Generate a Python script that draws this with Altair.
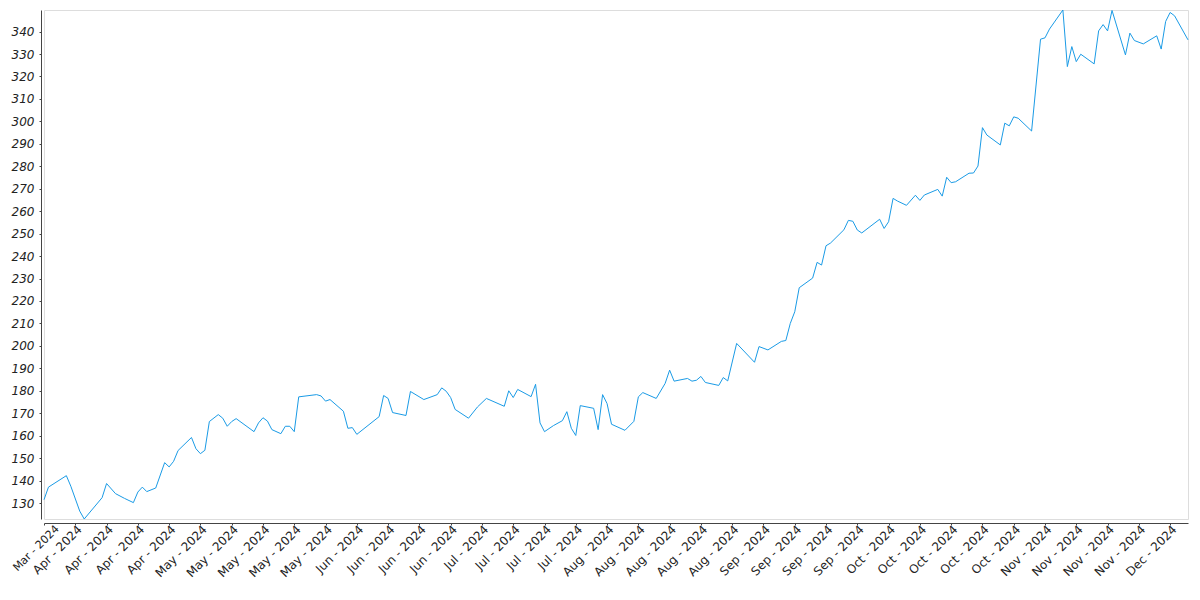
import altair as alt
import pandas as pd

dates = [
    "2024-03-28", "2024-03-29", "2024-04-02", "2024-04-03", "2024-04-05", "2024-04-06",
    "2024-04-10", "2024-04-11", "2024-04-13", "2024-04-15", "2024-04-17", "2024-04-18",
    "2024-04-19", "2024-04-20", "2024-04-22", "2024-04-24", "2024-04-25", "2024-04-26",
    "2024-04-27", "2024-04-30", "2024-05-01", "2024-05-02", "2024-05-03", "2024-05-04",
    "2024-05-06", "2024-05-07", "2024-05-08", "2024-05-09", "2024-05-10", "2024-05-14",
    "2024-05-15", "2024-05-16", "2024-05-17", "2024-05-18", "2024-05-20", "2024-05-21",
    "2024-05-22", "2024-05-23", "2024-05-24", "2024-05-28", "2024-05-29", "2024-05-30",
    "2024-05-31", "2024-06-03", "2024-06-04", "2024-06-05", "2024-06-06", "2024-06-11",
    "2024-06-12", "2024-06-13", "2024-06-14", "2024-06-17", "2024-06-18", "2024-06-21",
    "2024-06-24", "2024-06-25", "2024-06-26", "2024-06-27", "2024-06-28", "2024-07-01",
    "2024-07-03", "2024-07-05", "2024-07-09", "2024-07-10", "2024-07-11", "2024-07-12",
    "2024-07-15", "2024-07-16", "2024-07-17", "2024-07-18", "2024-07-20", "2024-07-22",
    "2024-07-23", "2024-07-24", "2024-07-25", "2024-07-26", "2024-07-29", "2024-07-30",
    "2024-07-31", "2024-08-01", "2024-08-02", "2024-08-05", "2024-08-07", "2024-08-08",
    "2024-08-09", "2024-08-12", "2024-08-14", "2024-08-15", "2024-08-16", "2024-08-19",
    "2024-08-20", "2024-08-21", "2024-08-22", "2024-08-23", "2024-08-26", "2024-08-27",
    "2024-08-28", "2024-08-30", "2024-09-03", "2024-09-04", "2024-09-06", "2024-09-09",
    "2024-09-10", "2024-09-11", "2024-09-12", "2024-09-13", "2024-09-16", "2024-09-17",
    "2024-09-18", "2024-09-19", "2024-09-20", "2024-09-23", "2024-09-24", "2024-09-25",
    "2024-09-26", "2024-09-27", "2024-10-01", "2024-10-02", "2024-10-03", "2024-10-04",
    "2024-10-05", "2024-10-07", "2024-10-09", "2024-10-10", "2024-10-11", "2024-10-14",
    "2024-10-15", "2024-10-16", "2024-10-17", "2024-10-18", "2024-10-21", "2024-10-22",
    "2024-10-23", "2024-10-24", "2024-10-25", "2024-10-28", "2024-10-29", "2024-10-30",
    "2024-10-31", "2024-11-01", "2024-11-04", "2024-11-06", "2024-11-07", "2024-11-08",
    "2024-11-11", "2024-11-12", "2024-11-13", "2024-11-14", "2024-11-15", "2024-11-18",
    "2024-11-19", "2024-11-20", "2024-11-21", "2024-11-22", "2024-11-25", "2024-11-26",
    "2024-11-27", "2024-11-29", "2024-12-02", "2024-12-03", "2024-12-04", "2024-12-05",
    "2024-12-06", "2024-12-09",
]

values = [
    131.5, 137.1, 142.2, 137.5, 126.4, 122.9,
    132.4, 138.7, 134.2, 132.1, 130.2, 134.9,
    137.1, 135.1, 136.7, 148.0, 146.1, 148.6,
    153.4, 159.2, 154.2, 152.0, 153.5, 166.3,
    169.4, 167.8, 164.2, 166.3, 167.6, 161.8,
    165.7, 168.0, 166.5, 162.7, 160.9, 164.2,
    164.2, 161.8, 177.3, 178.3, 177.7, 175.4,
    176.1, 170.9, 163.3, 163.6, 160.6, 168.5,
    177.9, 176.6, 170.3, 169.0, 179.7, 176.1,
    178.3, 181.3, 179.8, 177.0, 171.7, 167.8,
    172.8, 176.6, 173.1, 180.0, 177.0, 180.6,
    177.4, 182.9, 165.7, 161.8, 164.5, 166.7,
    170.7, 163.3, 160.1, 173.4, 172.2, 162.7,
    178.3, 174.3, 165.1, 162.4, 166.4, 177.3,
    179.2, 176.6, 183.3, 189.2, 184.3, 185.5,
    184.3, 184.7, 186.4, 183.7, 182.4, 185.9,
    184.4, 201.1, 192.7, 199.7, 198.2, 202.0,
    202.4, 210.0, 215.2, 225.9, 230.2, 237.2,
    236.0, 244.6, 245.8, 251.7, 255.9, 255.5,
    251.6, 250.3, 256.4, 252.3, 255.3, 265.7,
    264.5, 262.6, 267.1, 264.8, 267.2, 269.7,
    266.7, 275.1, 272.7, 273.1, 276.9, 277.0,
    280.1, 297.2, 293.9, 289.5, 299.2, 298.0,
    302.0, 301.4, 295.7, 336.6, 337.2, 341.1,
    349.6, 324.4, 333.3, 326.6, 329.9, 325.6,
    340.3, 343.1, 340.3, 349.4, 329.6, 339.3,
    336.0, 334.5, 338.1, 332.2, 344.5, 348.5,
    347.0, 336.3,
]

x_ticks = [
    "2024-03-28", "2024-04-04", "2024-04-11", "2024-04-18", "2024-04-25",
    "2024-05-02", "2024-05-09", "2024-05-16", "2024-05-23", "2024-05-30",
    "2024-06-06", "2024-06-13", "2024-06-20", "2024-06-27",
    "2024-07-04", "2024-07-11", "2024-07-18", "2024-07-25",
    "2024-08-01", "2024-08-08", "2024-08-15", "2024-08-22", "2024-08-29",
    "2024-09-05", "2024-09-12", "2024-09-19", "2024-09-26",
    "2024-10-03", "2024-10-10", "2024-10-17", "2024-10-24", "2024-10-31",
    "2024-11-07", "2024-11-14", "2024-11-21", "2024-11-28",
    "2024-12-05",
]

y_ticks = [130, 140, 150, 160, 170, 180, 190, 200, 210, 220, 230, 240,
           250, 260, 270, 280, 290, 300, 310, 320, 330, 340]

df = pd.DataFrame({"date": dates, "value": values})

tick_dt = [alt.DateTime(year=int(d[:4]), month=int(d[5:7]), date=int(d[8:10])) for d in x_ticks]

chart = alt.Chart(df).mark_line(
    color="#1a9be6", strokeWidth=1, interpolate="linear"
).encode(
    x=alt.X(
        "date:T",
        scale=alt.Scale(nice=False, padding=0),
        axis=alt.Axis(
            title=None,
            values=tick_dt,
            format="%b - %Y",
            labelAngle=-45,
            labelAlign="right",
            labelBaseline="middle",
            labelFont="DejaVu Sans",
            labelFontSize={"condition": {"test": "datum.index === 0", "value": 11}, "value": 12},
            labelColor="#222222",
            labelPadding=2,
            labelOffset={"condition": {"test": "datum.index === 0", "value": 13}, "value": 4},
            labelOverlap=False,
            labelFlush=False,
            grid=False,
            domainColor="#444444",
            tickColor="#444444",
            tickSize=2,
            offset=4,
        ),
    ),
    y=alt.Y(
        "value:Q",
        scale=alt.Scale(zero=False, nice=False, padding=0),
        axis=alt.Axis(
            title=None,
            values=y_ticks,
            labelFont="DejaVu Sans",
            labelFontSize=12,
            labelFontStyle="italic",
            labelColor="#222222",
            labelPadding=5,
            labelOverlap=False,
            labelFlush=False,
            grid=False,
            domainColor="#444444",
            tickColor="#444444",
            tickSize=2,
            offset=3,
        ),
    ),
).properties(
    width=1144,
    height=509,
    padding={"left": 36, "top": 2, "right": 4, "bottom": 73},
    autosize=alt.AutoSizeParams(type="none"),
).configure_view(
    stroke="#444444",
    strokeWidth=1,
).configure(background="white")

chart.save("out.html", embed_options={"renderer": "svg", "actions": False})
